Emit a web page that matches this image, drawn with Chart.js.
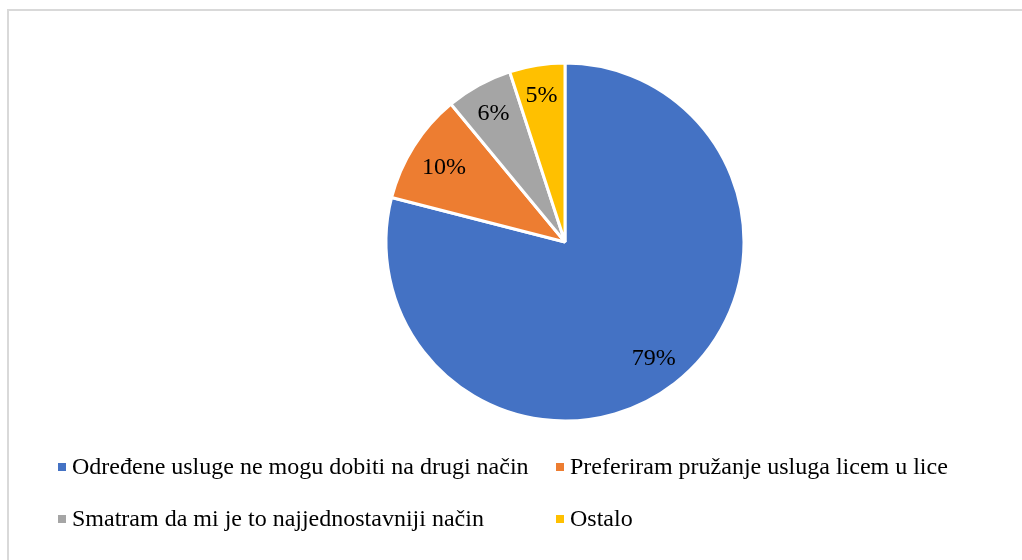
<!DOCTYPE html>
<html>
<head>
<meta charset="utf-8">
<script src="https://cdn.jsdelivr.net/npm/chart.js@4/dist/chart.umd.min.js"></script>
<style>
  html, body { margin: 0; padding: 0; background: #fff; }
  #wrap { position: relative; width: 1022px; height: 560px; }
</style>
</head>
<body>
<div id="wrap"><canvas id="c" width="1022" height="560"></canvas></div>
<script>
const categories = [
  "Određene usluge ne mogu dobiti na drugi način",
  "Preferiram pružanje usluga licem u lice",
  "Smatram da mi je to najjednostavniji način",
  "Ostalo"
];
const values = [79, 10, 6, 5];
const valueLabels = ["79%", "10%", "6%", "5%"];
const colors = ["#4472C4", "#ED7D31", "#A5A5A5", "#FFC000"];

const FONT = "24px 'Liberation Serif', 'Times New Roman', serif";

const frame = {
  id: 'frame',
  beforeDraw(chart) {
    const ctx = chart.ctx;
    ctx.save();
    ctx.fillStyle = '#fff';
    ctx.fillRect(0, 0, chart.width, chart.height);
    ctx.fillStyle = '#d9d9d9';
    ctx.fillRect(7, 9, 1100, 2);
    ctx.fillRect(7, 9, 2, 600);
    ctx.restore();
  }
};

const labelsPlugin = {
  id: 'sliceLabels',
  afterDatasetsDraw(chart) {
    const ctx = chart.ctx;
    const meta = chart.getDatasetMeta(0);
    const ratios = [0.81, 0.80, 0.83, 0.84];
    ctx.save();
    ctx.font = FONT;
    ctx.fillStyle = '#000';
    ctx.textAlign = 'center';
    ctx.textBaseline = 'middle';
    meta.data.forEach((arc, i) => {
      const p = arc.getProps(['x', 'y', 'startAngle', 'endAngle', 'outerRadius'], true);
      const mid = (p.startAngle + p.endAngle) / 2;
      const r = p.outerRadius * ratios[i];
      ctx.fillText(valueLabels[i], p.x + Math.cos(mid) * r, p.y + Math.sin(mid) * r + 2);
    });
    ctx.restore();
  }
};

const legendPlugin = {
  id: 'gridLegend',
  afterDraw(chart) {
    const ctx = chart.ctx;
    const cols = [58, 556];
    const rows = [467, 519];
    ctx.save();
    ctx.font = FONT;
    ctx.textBaseline = 'middle';
    ctx.textAlign = 'left';
    chart.data.labels.forEach((lab, i) => {
      const x = cols[i % 2];
      const y = rows[Math.floor(i / 2)];
      ctx.fillStyle = chart.data.datasets[0].backgroundColor[i];
      ctx.fillRect(x, y - 4, 8, 8);
      ctx.fillStyle = '#000';
      ctx.fillText(lab, x + 14, y + 1);
    });
    ctx.restore();
  }
};

new Chart(document.getElementById('c'), {
  type: 'pie',
  data: {
    labels: categories,
    datasets: [{
      data: values,
      backgroundColor: colors,
      borderColor: '#ffffff',
      borderWidth: 3,
      radius: 179
    }]
  },
  options: {
    responsive: false,
    animation: false,
    layout: { padding: { left: 208, right: 100, top: 40, bottom: 116 } },
    plugins: {
      legend: { display: false },
      tooltip: { enabled: false }
    }
  },
  plugins: [frame, labelsPlugin, legendPlugin]
});
</script>
</body>
</html>
